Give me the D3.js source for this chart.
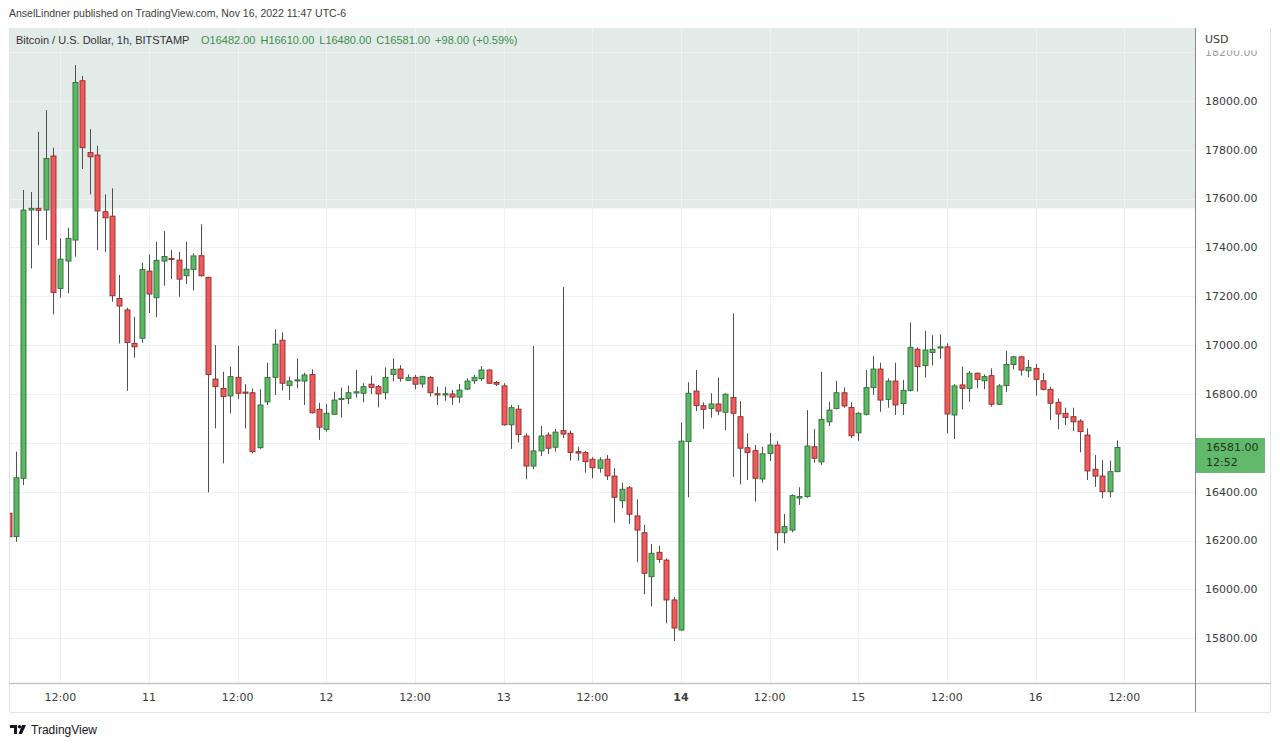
<!DOCTYPE html>
<html><head><meta charset="utf-8">
<script src="https://cdn.jsdelivr.net/npm/d3@7"></script>
<style>html,body{margin:0;padding:0;background:#fff;}svg{display:block;}</style>
</head><body>
<svg id="c" width="1280" height="746"></svg>
<script>
// ---- data (BTC/USD 1h, BITSTAMP, from Nov 10 05:00) ----
const startTime = Date.UTC(2022, 10, 10, 5);
const opens = [16312,16216,16455,17553,17560,17553,17774,17232,17344,17430,18082,17788,17778,17546,17528,17191,17144,17007,17028,17303,
17194,17344,17355,17348,17284,17310,17366,17277,16861,16823,16792,16868,16808,16805,16580,16768,16868,17020,16834,16855,
16853,16880,16737,16655,16717,16778,16782,16805,16803,16840,16830,16805,16880,16902,16856,16868,16841,16868,16801,16796,
16800,16787,16820,16854,16863,16898,16847,16833,16674,16738,16628,16505,16567,16632,16582,16650,16639,16564,16560,16533,
16496,16533,16464,16363,16416,16301,16232,16052,16152,16120,15957,15834,16605,16812,16752,16741,16759,16725,16786,16707,
16580,16568,16452,16557,16591,16232,16243,16374,16380,16584,16522,16686,16741,16805,16745,16641,16717,16826,16902,16778,
16853,16761,16815,16983,16916,16970,16988,16993,16714,16837,16823,16885,16854,16875,16758,16834,16921,16952,16895,16905,
16854,16819,16766,16721,16707,16689,16632,16492,16464,16400,16482];
const highs = [16320,16564,17635,17627,17873,17962,17808,17437,17480,18146,18102,17884,17816,17617,17642,17287,17153,17116,17337,17371,
17423,17467,17389,17382,17423,17376,17494,17280,17000,16891,16912,16997,16840,16823,16819,16928,17065,17052,16871,16946,
16887,16901,16764,16759,16809,16826,16834,16898,16844,16875,16837,16909,16946,16918,16880,16878,16875,16873,16830,16830,
16816,16841,16864,16878,16914,16901,16853,16844,16755,16755,16639,16996,16669,16643,16657,17238,16650,16584,16567,16541,
16541,16550,16496,16437,16423,16369,16264,16186,16179,16127,15969,16684,16848,16898,16766,16803,16867,16803,17130,16771,
16639,16591,16584,16641,16607,16309,16389,16418,16734,16657,16891,16768,16854,16827,16766,16725,16898,16955,16928,16864,
16928,16857,17093,16991,17059,17041,17044,17007,16840,16912,16894,16888,16880,16905,16840,16977,16956,16956,16939,16923,
16885,16830,16782,16744,16744,16697,16659,16550,16530,16527,16610];
const lows = [16205,16195,16427,17314,17410,17430,17126,17194,17212,17362,17721,17617,17389,17382,17178,17007,16813,16948,17010,17131,
17114,17243,17270,17198,17250,17224,17280,16397,16659,16516,16721,16779,16659,16557,16575,16755,16796,16814,16775,16823,
16755,16720,16612,16646,16714,16703,16758,16785,16766,16799,16745,16778,16853,16850,16853,16819,16826,16789,16755,16772,
16755,16763,16816,16841,16853,16841,16833,16670,16575,16602,16451,16492,16546,16554,16564,16620,16527,16527,16478,16455,
16478,16448,16273,16332,16268,16111,15981,15931,16109,15861,15789,15830,16377,16730,16657,16703,16714,16652,16461,16430,
16448,16359,16438,16526,16161,16189,16234,16346,16375,16519,16509,16669,16737,16744,16619,16609,16712,16796,16727,16744,
16714,16714,16810,16810,16867,16917,16944,16639,16616,16737,16768,16823,16820,16748,16755,16808,16901,16875,16868,16793,
16815,16693,16655,16673,16648,16561,16448,16420,16373,16377,16480];
const closes = [16216,16457,17553,17560,17552,17764,17216,17352,17437,18075,17808,17771,17549,17521,17202,17160,17011,16993,17310,17209,
17347,17363,17350,17270,17311,17365,17284,16880,16830,16789,16871,16803,16803,16564,16755,16868,17004,16844,16853,16858,
16878,16723,16664,16721,16775,16782,16805,16809,16830,16827,16800,16868,16901,16864,16867,16840,16871,16805,16796,16801,
16787,16816,16853,16868,16898,16844,16840,16674,16744,16634,16505,16567,16628,16578,16644,16636,16561,16558,16523,16498,
16530,16465,16377,16410,16308,16243,16066,16148,16123,15957,15842,16607,16803,16752,16737,16759,16730,16799,16721,16578,
16560,16455,16555,16591,16232,16257,16384,16380,16587,16537,16696,16734,16805,16751,16629,16721,16826,16902,16775,16853,
16755,16815,16991,16912,16980,16983,16993,16718,16833,16823,16885,16860,16871,16758,16833,16921,16952,16898,16909,16860,
16819,16762,16718,16704,16686,16646,16485,16464,16400,16482,16581];
const priceTicks = [15800,16000,16200,16400,16600,16800,17000,17200,17400,17600,17800,18000,18200];
const timeTickLabels = ["12:00","11","12:00","12","12:00","13","12:00","14","12:00","15","12:00","16","12:00"];
const timeTickStart = Date.UTC(2022, 10, 10, 12);
const zoneLow = 17560;
const lastPrice = 16581, countdown = "12:52";
const titleText = "AnselLindner published on TradingView.com, Nov 16, 2022 11:47 UTC-6";
const symbolText = "Bitcoin / U.S. Dollar, 1h, BITSTAMP";
const ohlcTexts = ["O16482.00","H16610.00","L16480.00","C16581.00","+98.00","(+0.59%)"];

// ---- layout ----
const L = 9.5, R = 1195, T = 28, B = 683;
const svg = d3.select("#c");
const x = d3.scaleUtc().domain([new Date(startTime), new Date(timeTickStart + 144*3600e3)]).range([8.6, 1124.3]);
const y = d3.scaleLinear().domain([15617, 18298]).range([B, T]);
const data = opens.map((o,i)=>({t:new Date(startTime + i*3600e3), o, h:highs[i], l:lows[i], c:closes[i]}));
const tickDates = timeTickLabels.map((_,k)=>new Date(timeTickStart + k*12*3600e3));

svg.append("defs").append("clipPath").attr("id","plot").append("rect")
  .attr("x",L).attr("y",T).attr("width",R-L).attr("height",B-T);

const plot = svg.append("g").attr("clip-path","url(#plot)");
// shaded zone
plot.append("rect").attr("x",L).attr("y",T).attr("width",R-L).attr("height",y(zoneLow)-T).attr("fill","#e2ebe8");
// grid
plot.append("g").selectAll("line").data(priceTicks).join("line")
  .attr("x1",L).attr("x2",R).attr("y1",d=>Math.round(y(d))+0.5).attr("y2",d=>Math.round(y(d))+0.5)
  .attr("stroke","#eef1f6").attr("stroke-width",1);
plot.append("g").selectAll("line").data(tickDates).join("line")
  .attr("x1",d=>Math.round(x(d))+0.5).attr("x2",d=>Math.round(x(d))+0.5).attr("y1",T).attr("y2",B)
  .attr("stroke","#eef1f6").attr("stroke-width",1);

// candles
const cg = plot.append("g");
const bw = 5;
cg.selectAll("line.w").data(data).join("line").attr("class","w")
  .attr("x1",d=>Math.round(x(d.t))+0.5).attr("x2",d=>Math.round(x(d.t))+0.5)
  .attr("y1",d=>y(d.h)).attr("y2",d=>y(d.l))
  .attr("stroke","#505050").attr("stroke-width",1);
cg.selectAll("rect.b").data(data).join("rect").attr("class","b")
  .attr("x",d=>Math.round(x(d.t))-2)
  .attr("y",d=>y(Math.max(d.o,d.c)))
  .attr("width",bw)
  .attr("height",d=>Math.max(1.2, Math.abs(y(d.o)-y(d.c))))
  .attr("fill",d=>d.c>=d.o?"#5db865":"#ef5b5b")
  .attr("stroke",d=>d.c>=d.o?"#2d6e33":"#8e2b2b")
  .attr("stroke-width",0.9);

// frame lines
svg.append("line").attr("x1",L).attr("x2",L).attr("y1",T).attr("y2",712).attr("stroke","#e0e3eb");
svg.append("line").attr("x1",1270.5).attr("x2",1270.5).attr("y1",T).attr("y2",712).attr("stroke","#e0e3eb");
svg.append("line").attr("x1",L).attr("x2",1270.5).attr("y1",712.5).attr("y2",712.5).attr("stroke","#e0e3eb");
svg.append("line").attr("x1",L).attr("x2",1270.5).attr("y1",683.5).attr("y2",683.5).attr("stroke","#c3c6cc").attr("stroke-width",1.5);
svg.append("line").attr("x1",1195.5).attr("x2",1195.5).attr("y1",T).attr("y2",712).attr("stroke","#85888f");

// price axis (labels hidden under the last-price box are not drawn)
const ly = y(lastPrice);
svg.append("defs").append("clipPath").attr("id","pax").append("rect")
  .attr("x",1196).attr("y",50.5).attr("width",80).attr("height",632);
const pax = svg.append("g").attr("clip-path","url(#pax)");
pax.selectAll("text").data(priceTicks.filter(d=>Math.abs(y(d)-(ly+8))>22)).join("text")
  .attr("x",1205).attr("y",d=>y(d)).attr("dy","0.35em")
  .attr("font-family","DejaVu Sans, Verdana, sans-serif").attr("font-size",11)
  .attr("fill",d=>d===18200?"#9a9ca2":"#3b3b3b")
  .text(d=>d3.format(".2f")(d));
svg.append("text").attr("x",1205).attr("y",39).attr("dy","0.35em")
  .attr("font-family","DejaVu Sans, Verdana, sans-serif").attr("font-size",11).attr("fill","#3b3b3b").text("USD");

// last price label
svg.append("rect").attr("x",1196).attr("y",ly-9.5).attr("width",69).attr("height",35).attr("fill","#63b96b");
svg.append("text").attr("x",1206).attr("y",ly).attr("dy","0.35em")
  .attr("font-family","DejaVu Sans, Verdana, sans-serif").attr("font-size",11).attr("fill","#1d3320").text(d3.format(".2f")(lastPrice));
svg.append("text").attr("x",1206).attr("y",ly+15).attr("dy","0.35em")
  .attr("font-family","DejaVu Sans, Verdana, sans-serif").attr("font-size",11).attr("fill","#1d3320").text(countdown);

// time axis
svg.append("g").selectAll("text").data(tickDates).join("text")
  .attr("x",d=>x(d)).attr("y",697).attr("dy","0.35em").attr("text-anchor","middle")
  .attr("font-family","DejaVu Sans, Verdana, sans-serif").attr("font-size",11)
  .attr("font-weight",(d,i)=>timeTickLabels[i]==="14"?"bold":"normal")
  .attr("fill","#3b3b3b")
  .text((d,i)=>timeTickLabels[i]);

// header texts
svg.append("text").attr("x",9).attr("y",13).attr("dy","0.35em")
  .attr("font-family","Liberation Sans, Arial, sans-serif").attr("font-size",10.5).attr("fill","#3d3d3d")
  .text(titleText);
const legend = svg.append("text").attr("x",16).attr("y",40).attr("dy","0.35em")
  .attr("font-family","Liberation Sans, Arial, sans-serif").attr("font-size",11).attr("fill","#333");
legend.append("tspan").text(symbolText);
ohlcTexts.forEach((t,i)=>{
  const ts = legend.append("tspan").attr("fill","#3e8b4b").text(t);
  if (i===0) ts.attr("x",201); else ts.attr("dx", i===5 ? 3.5 : 5);
});

// TradingView logo
const lg = svg.append("g").attr("fill","#131722");
lg.append("path").attr("d","M10,725 h7 v9 h-3 v-6 h-4 z");
lg.append("circle").attr("cx",19.5).attr("cy",726.8).attr("r",1.8);
lg.append("path").attr("d","M22,725 h4 l-4,9 h-3.5 z");
svg.append("text").attr("x",31).attr("y",730).attr("dy","0.35em")
  .attr("font-family","Liberation Sans, Arial, sans-serif").attr("font-size",12).attr("fill","#131722")
  .text("TradingView");
</script>
</body></html>
